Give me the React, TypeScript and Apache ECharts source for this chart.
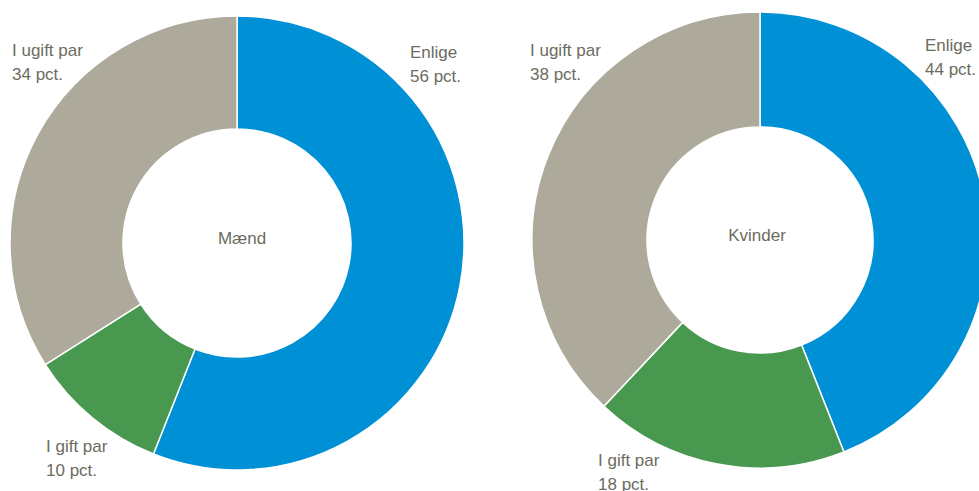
import React, { useEffect, useRef } from "react";
import * as echarts from "echarts";

const categories = ["Enlige", "I gift par", "I ugift par"];
const maendValues = [56, 10, 34];
const kvinderValues = [44, 18, 38];
const colors = ["#0090D5", "#48984F", "#ADAA9B"];
const TEXT = "#6B6C5E";

export default function App() {
  const ref = useRef<HTMLDivElement>(null);
  useEffect(() => {
    if (!ref.current) return;
    const chart = echarts.init(ref.current, null, { renderer: "svg" });
    const mk = (vals: number[], center: number[], radius: number[], name: string) => ({
      type: "pie",
      name,
      center,
      radius,
      startAngle: 90,
      clockwise: true,
      label: { show: false },
      labelLine: { show: false },
      emphasis: { disabled: true },
      itemStyle: { borderColor: "#ffffff", borderWidth: 1.5 },
      data: categories.map((c, i) => ({ name: c, value: vals[i], itemStyle: { color: colors[i] } })),
    });
    const txt = (x: number, y: number, s: string, align = "left") => ({
      type: "text",
      x,
      y,
      style: {
        text: s,
        fill: TEXT,
        font: "17px 'Liberation Sans', Arial, sans-serif",
        lineHeight: 24,
        align,
        verticalAlign: "top",
      },
    });
    chart.setOption({
      animation: false,
      backgroundColor: "#ffffff",
      series: [
        mk(maendValues, [237, 243], [114, 227], "Mænd"),
        mk(kvinderValues, [760, 240], [113, 228], "Kvinder"),
      ],
      graphic: [
        txt(12, 38, `I ugift par\n${maendValues[2]} pct.`),
        txt(410, 40, `Enlige\n${maendValues[0]} pct.`),
        txt(46, 434, `I gift par\n${maendValues[1]} pct.`),
        txt(530, 38, `I ugift par\n${kvinderValues[2]} pct.`),
        txt(925, 33, `Enlige\n${kvinderValues[0]} pct.`),
        txt(598, 448, `I gift par\n${kvinderValues[1]} pct.`),
        {
          type: "text",
          x: 242,
          y: 238,
          style: { text: "Mænd", fill: TEXT, font: "17px 'Liberation Sans', Arial, sans-serif", align: "center", verticalAlign: "middle" },
        },
        {
          type: "text",
          x: 757,
          y: 235,
          style: { text: "Kvinder", fill: TEXT, font: "17px 'Liberation Sans', Arial, sans-serif", align: "center", verticalAlign: "middle" },
        },
      ],
    });
    return () => chart.dispose();
  }, []);
  return (
    <div
      ref={ref}
      style={{ position: "fixed", left: 0, top: 0, width: 979, height: 491, background: "#fff" }}
    />
  );
}
